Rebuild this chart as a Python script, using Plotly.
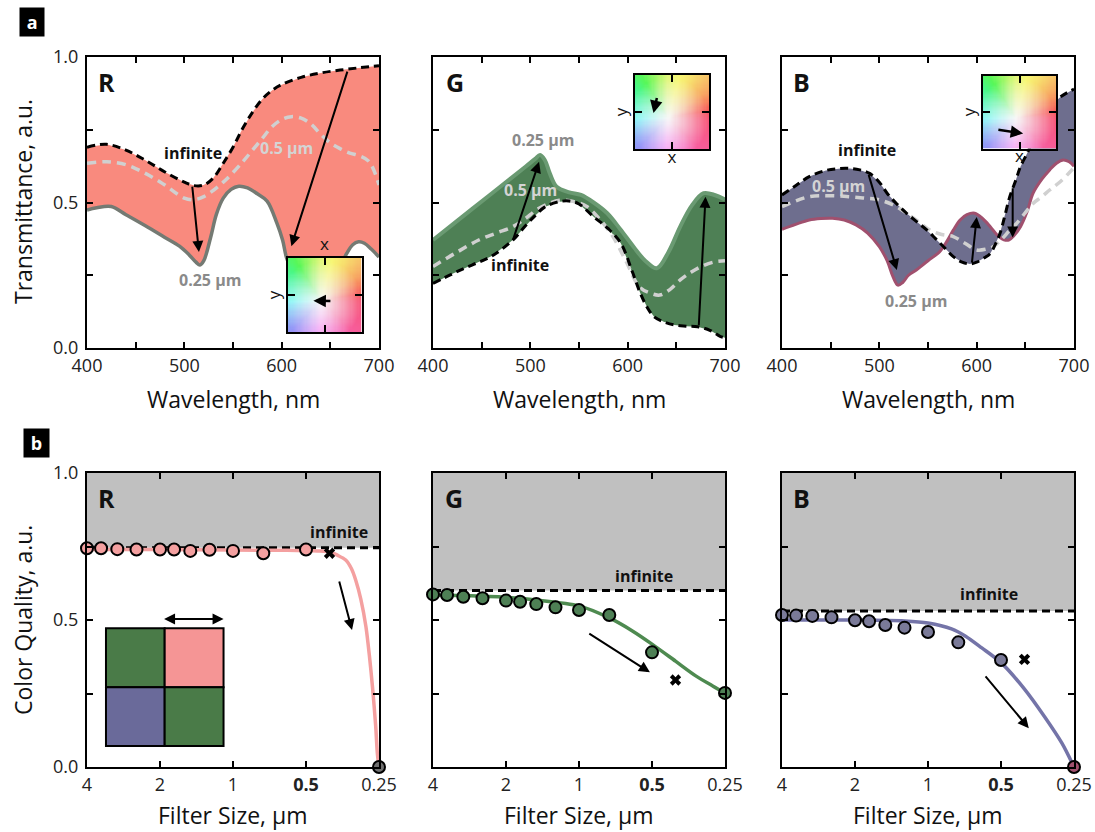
import numpy as np
import plotly.graph_objects as go

# ---------------- Panel a data (wavelength in nm, transmittance a.u.) ----------------
R_inf_wl = [400, 420, 440, 460, 480, 500, 510, 520, 530, 540, 550, 560, 570, 580, 590, 600, 620, 640, 660, 680, 700]
R_inf = [0.69, 0.70, 0.68, 0.645, 0.605, 0.57, 0.558, 0.56, 0.585, 0.635, 0.69, 0.755, 0.81, 0.855, 0.885, 0.905, 0.93, 0.945, 0.955, 0.963, 0.97]
R_05_wl = [400, 420, 440, 460, 480, 500, 510, 520, 540, 560, 570, 580, 590, 600, 610, 620, 630, 640, 650, 660, 670, 680, 690, 700]
R_05 = [0.635, 0.64, 0.63, 0.60, 0.56, 0.515, 0.51, 0.52, 0.57, 0.64, 0.68, 0.72, 0.76, 0.785, 0.795, 0.79, 0.77, 0.735, 0.705, 0.685, 0.67, 0.66, 0.64, 0.56]
R_025_wl = [400, 410, 425, 440, 460, 480, 495, 505, 512, 516, 520, 527, 533, 540, 548, 556, 565, 575, 585, 595, 601, 605, 610, 620, 630, 640, 650, 660, 667, 673, 679, 685, 692, 700]
R_025 = [0.474, 0.482, 0.486, 0.458, 0.42, 0.38, 0.35, 0.32, 0.295, 0.285, 0.30, 0.38, 0.46, 0.515, 0.545, 0.556, 0.55, 0.53, 0.505, 0.43, 0.37, 0.31, 0.27, 0.22, 0.20, 0.20, 0.22, 0.28, 0.326, 0.355, 0.365, 0.36, 0.34, 0.313]

G_inf_wl = [400, 420, 440, 460, 482, 495, 505, 515, 530, 540, 550, 565, 580, 593, 605, 613, 620, 627, 637, 648, 660, 672, 685, 695, 700]
G_inf = [0.222, 0.255, 0.285, 0.315, 0.371, 0.42, 0.455, 0.485, 0.503, 0.505, 0.495, 0.451, 0.41, 0.36, 0.26, 0.188, 0.14, 0.108, 0.09, 0.079, 0.075, 0.073, 0.06, 0.04, 0.035]
G_05_wl = [400, 425, 447, 465, 482, 495, 506, 518, 530, 545, 558, 572, 585, 598, 612, 622, 633, 643, 654, 665, 675, 688, 700]
G_05 = [0.28, 0.33, 0.371, 0.395, 0.417, 0.445, 0.474, 0.495, 0.508, 0.503, 0.486, 0.44, 0.382, 0.30, 0.21, 0.19, 0.182, 0.20, 0.234, 0.26, 0.279, 0.295, 0.30]
G_025_wl = [400, 420, 440, 460, 480, 495, 505, 510, 515, 520, 527, 540, 552, 565, 579, 592, 606, 618, 630, 642, 654, 666, 678, 690, 700]
G_025 = [0.371, 0.424, 0.477, 0.53, 0.583, 0.623, 0.65, 0.663, 0.645, 0.60, 0.554, 0.535, 0.526, 0.50, 0.463, 0.41, 0.348, 0.30, 0.274, 0.33, 0.417, 0.49, 0.532, 0.525, 0.51]

B_inf_wl = [400, 415, 428, 445, 460, 470, 480, 490, 500, 508, 518, 528, 538, 549, 558, 566, 576, 585, 593, 600, 608, 614, 619, 624, 629, 634, 640, 645, 652, 658, 667, 675, 687, 700]
B_inf = [0.526, 0.56, 0.589, 0.61, 0.617, 0.617, 0.612, 0.60, 0.57, 0.532, 0.495, 0.463, 0.435, 0.405, 0.375, 0.348, 0.314, 0.295, 0.289, 0.295, 0.31, 0.325, 0.355, 0.394, 0.455, 0.52, 0.575, 0.623, 0.67, 0.715, 0.775, 0.83, 0.865, 0.89]
B_05_wl = [400, 428, 450, 469, 485, 500, 515, 528, 540, 552, 564, 576, 588, 600, 610, 617, 626, 634, 641, 650, 658, 667, 675, 687, 700]
B_05 = [0.486, 0.52, 0.523, 0.52, 0.515, 0.509, 0.49, 0.463, 0.435, 0.405, 0.39, 0.383, 0.36, 0.337, 0.34, 0.348, 0.375, 0.405, 0.428, 0.465, 0.497, 0.52, 0.543, 0.575, 0.62]
B_025_wl = [400, 414, 428, 440, 452, 464, 476, 488, 500, 508, 514, 519, 524, 530, 538, 550, 562, 570, 576, 583, 590, 598, 606, 614, 622, 628, 633, 638, 645, 652, 658, 667, 675, 682, 689, 695, 700]
B_025 = [0.408, 0.425, 0.44, 0.445, 0.446, 0.44, 0.423, 0.395, 0.348, 0.30, 0.245, 0.216, 0.225, 0.25, 0.268, 0.30, 0.331, 0.37, 0.405, 0.44, 0.458, 0.463, 0.445, 0.417, 0.385, 0.372, 0.371, 0.385, 0.417, 0.47, 0.532, 0.58, 0.612, 0.635, 0.646, 0.64, 0.625]

# ---------------- Panel b data (filter size in um, colour quality a.u.) ----------------
sizes = [4, 3.5, 3, 2.5, 2, 1.75, 1.5, 1.25, 1, 0.75, 0.5, 0.25]
R_q = [0.744, 0.744, 0.741, 0.74, 0.74, 0.74, 0.735, 0.739, 0.735, 0.727, 0.74, 0.0]
G_q = [0.587, 0.585, 0.579, 0.574, 0.566, 0.562, 0.554, 0.543, 0.534, 0.517, 0.39, 0.252]
B_q = [0.517, 0.515, 0.514, 0.509, 0.499, 0.496, 0.483, 0.474, 0.459, 0.424, 0.364, 0.0]
inf_q = {"R": 0.746, "G": 0.60, "B": 0.531}
cross_size = 0.4
cross_q = {"R": 0.727, "G": 0.296, "B": 0.366}

R_fit_s = [4, 2, 1, 0.6, 0.45, 0.4, 0.37, 0.343, 0.325, 0.312, 0.297, 0.283, 0.274, 0.266, 0.258, 0.254, 0.25]
R_fit = [0.74, 0.74, 0.738, 0.737, 0.735, 0.732, 0.72, 0.704, 0.675, 0.636, 0.57, 0.477, 0.38, 0.273, 0.14, 0.047, 0.0]
G_fit_s = [4, 3, 2, 1.5, 1, 0.75, 0.6, 0.5, 0.4, 0.33, 0.28, 0.25]
G_fit = [0.585, 0.583, 0.577, 0.568, 0.548, 0.507, 0.462, 0.418, 0.36, 0.31, 0.275, 0.252]
B_fit_s = [4, 2, 1.25, 1, 0.8, 0.7, 0.6, 0.5, 0.4, 0.33, 0.28, 0.25]
B_fit = [0.5, 0.5, 0.497, 0.49, 0.47, 0.445, 0.405, 0.355, 0.265, 0.17, 0.08, 0.0]

a_xticks = [400, 450, 500, 550, 600, 650, 700]
a_xtext = ["400", "", "500", "", "600", "", "700"]
y_ticks = [0, 0.25, 0.5, 0.75, 1.0]
y_text = ["0.0", "", "0.5", "", "1.0"]
b_xticks = [4, 2, 1, 0.5, 0.25]
b_xtext = ["4", "2", "1", "<b>0.5</b>", "0.25"]

FONT = "Open Sans"
fig = go.Figure()


def ax_names(i):
    return ("x" if i == 1 else f"x{i}"), ("y" if i == 1 else f"y{i}")


def add_a_panel(i, inf_wl, inf, h_wl, h, q_wl, q, fillc, qcol, qw):
    xa, ya = ax_names(i)
    fig.add_trace(go.Scatter(x=inf_wl, y=inf, xaxis=xa, yaxis=ya, mode="lines",
                             line=dict(width=0, color=fillc), hoverinfo="skip", showlegend=False))
    fig.add_trace(go.Scatter(x=q_wl, y=q, xaxis=xa, yaxis=ya, mode="lines", fill="tonexty",
                             fillcolor=fillc, line=dict(width=0, color=fillc), hoverinfo="skip", showlegend=False))
    fig.add_trace(go.Scatter(x=q_wl, y=q, xaxis=xa, yaxis=ya, mode="lines", line_shape="spline",
                             line=dict(width=qw, color=qcol), showlegend=False))
    fig.add_trace(go.Scatter(x=h_wl, y=h, xaxis=xa, yaxis=ya, mode="lines", line_shape="spline",
                             line=dict(width=3.5, color="#D0D0D0", dash="9px,6px"), showlegend=False))
    fig.add_trace(go.Scatter(x=inf_wl, y=inf, xaxis=xa, yaxis=ya, mode="lines", line_shape="spline",
                             line=dict(width=3, color="black", dash="8px,5px"), showlegend=False))


add_a_panel(1, R_inf_wl, R_inf, R_05_wl, R_05, R_025_wl, R_025, "#F98A7E", "#747A73", 3.5)
add_a_panel(2, G_inf_wl, G_inf, G_05_wl, G_05, G_025_wl, G_025, "#4E8055", "#6A9A72", 4)
add_a_panel(3, B_inf_wl, B_inf, B_05_wl, B_05, B_025_wl, B_025, "#6E6E8E", "#A0506E", 3)


def add_b_panel(i, fit_s, fit, q, key, mcols, ccol):
    xa, ya = ax_names(i)
    fig.add_trace(go.Scatter(x=[sizes[0], sizes[-1]], y=[inf_q[key]] * 2, xaxis=xa, yaxis=ya, mode="lines",
                             line=dict(width=3, color="black", dash="8px,5px"), showlegend=False))
    fig.add_trace(go.Scatter(x=fit_s, y=fit, xaxis=xa, yaxis=ya, mode="lines", line_shape="spline",
                             line=dict(width=3.5, color=ccol, smoothing=0.8), showlegend=False))
    fig.add_trace(go.Scatter(x=sizes, y=q, xaxis=xa, yaxis=ya, mode="markers",
                             marker=dict(size=12, color=mcols, line=dict(color="black", width=2)),
                             cliponaxis=False, showlegend=False))
    fig.add_trace(go.Scatter(x=[cross_size], y=[cross_q[key]], xaxis=xa, yaxis=ya, mode="markers",
                             marker=dict(symbol="x", size=10, color="black", line=dict(width=0)),
                             showlegend=False))


add_b_panel(4, R_fit_s, R_fit, R_q, "R", ["#F4A0A0"] * 11 + ["#707070"], "#F4A0A0")
add_b_panel(5, G_fit_s, G_fit, G_q, "G", ["#4E8055"] * 12, "#4E8A50")
add_b_panel(6, B_fit_s, B_fit, B_q, "B", ["#7A7A98"] * 11 + ["#A0506E"], "#7474A8")

# ---------------- colour-space inset images ----------------
N = 64
jj, ii = np.meshgrid(np.arange(N), np.arange(N))
u = (jj + 0.5) / N
v = 1 - (ii + 0.5) / N
dx, dy = u - 0.45, v - 0.42
theta = np.degrees(np.arctan2(dy, dx)) % 360
hue = (np.interp(theta, [0, 35, 60, 90, 135, 180, 225, 270, 315, 360],
                 [-12, 28, 50, 70, 140, 178, 240, 305, 335, 348]) % 360) / 360.0
smax = np.interp(theta, [0, 45, 90, 135, 180, 225, 270, 315, 360],
                 [0.66, 0.58, 0.5, 0.7, 0.55, 0.40, 0.40, 0.62, 0.66])
sat = np.clip(np.hypot(dx, dy) / 0.55, 0, 1) ** 1.1 * smax
val = np.full_like(sat, 0.97)
k = np.floor(hue * 6).astype(int) % 6
f = hue * 6 - np.floor(hue * 6)
p = val * (1 - sat)
qq = val * (1 - f * sat)
t = val * (1 - (1 - f) * sat)
r = np.choose(k, [val, qq, p, p, t, val])
g = np.choose(k, [t, val, val, qq, p, p])
b = np.choose(k, [p, p, t, val, val, qq])
img = (np.stack([r, g, b], axis=-1) * 255).astype(np.uint8)

for i in (7, 8, 9):
    xa, ya = ax_names(i)
    fig.add_trace(go.Image(z=img, x0=0.5 / N, dx=1.0 / N, y0=0.5 / N, dy=1.0 / N,
                           xaxis=xa, yaxis=ya, hoverinfo="skip"))

# ---------------- layout ----------------
W, H = 1095, 832
a_dom_y = [1 - 348 / H, 1 - 57 / H]
b_dom_y = [1 - 767 / H, 1 - 473 / H]
dom_x = [[87 / W, 379 / W], [433 / W, 725 / W], [782 / W, 1074 / W]]

common = dict(showline=True, linecolor="black", linewidth=2, mirror="allticks", ticks="inside",
              ticklen=6, tickwidth=2, tickcolor="black", showgrid=False, zeroline=False, automargin=False,
              tickfont=dict(family=FONT, size=18, color="#222"), fixedrange=True)

layout = dict(width=W, height=H, margin=dict(l=0, r=0, t=0, b=0, autoexpand=False), paper_bgcolor="white",
              plot_bgcolor="white", showlegend=False, font=dict(family=FONT, color="#222"),
              template="none")

for n in range(3):
    i = n + 1
    xk = "xaxis" if i == 1 else f"xaxis{i}"
    yk = "yaxis" if i == 1 else f"yaxis{i}"
    layout[xk] = dict(common, domain=dom_x[n], range=[400, 700], tickvals=a_xticks, ticktext=a_xtext,
                      anchor=ax_names(i)[1])
    layout[yk] = dict(common, domain=a_dom_y, range=[0, 1], tickvals=y_ticks, ticklabelstandoff=3,
                      ticktext=y_text if n == 0 else [""] * 5, anchor=ax_names(i)[0])
    j = n + 4
    layout[f"xaxis{j}"] = dict(common, domain=dom_x[n], type="log", range=[np.log10(4), np.log10(0.25)],
                               tickvals=b_xticks, ticktext=b_xtext, anchor=f"y{j}")
    layout[f"yaxis{j}"] = dict(common, domain=b_dom_y, range=[0, 1], tickvals=y_ticks, ticklabelstandoff=3,
                               ticktext=y_text if n == 0 else [""] * 5, anchor=f"x{j}")

inset_dom = {
    7: ([287 / W, 362 / W], [1 - 332 / H, 1 - 258 / H], "top"),
    8: ([635 / W, 709 / W], [1 - 149 / H, 1 - 75 / H], "bottom"),
    9: ([983 / W, 1056 / W], [1 - 149 / H, 1 - 75 / H], "bottom"),
}
inset_ax = dict(showline=True, linecolor="black", linewidth=2, mirror="allticks", ticks="inside",
                tickvals=[0.5], ticklen=7, tickwidth=2, tickcolor="black", showticklabels=False,
                showgrid=False, zeroline=False, fixedrange=True, automargin=False)
for i, (dxr, dyr, side) in inset_dom.items():
    layout[f"xaxis{i}"] = dict(inset_ax, domain=dxr, range=[0, 1], anchor=f"y{i}", side=side,
                               title=dict(text="x", font=dict(family=FONT, size=17, color="#111"), standoff=1))
    layout[f"yaxis{i}"] = dict(inset_ax, domain=dyr, range=[1, 0], autorange=False, anchor=f"x{i}",
                               title=dict(text="y", font=dict(family=FONT, size=17, color="#111"), standoff=1))

fig.update_layout(**layout)

# ---------------- annotations ----------------
ann = []


def txt(x, y, s, xref, yref, size=16, color="#111", bold=True, **kw):
    ann.append(dict(x=x, y=y, xref=xref, yref=yref, text=(f"<b>{s}</b>" if bold else s), showarrow=False,
                    xanchor="center", yanchor="middle",
                    font=dict(family=FONT, size=size, color=color), **kw))


def arrow(x0, y0, x1, y1, xr, yr, width=2, size=1.1):
    ann.append(dict(x=x1, y=y1, ax=x0, ay=y0, xref=xr, yref=yr, axref=xr, ayref=yr, text="",
                    showarrow=True, arrowhead=2, arrowsize=size, arrowwidth=width, arrowcolor="black",
                    standoff=0, startstandoff=0))


# panel letters
for s, x, y in [("a", 32, 22), ("b", 36, 443)]:
    ann.append(dict(x=x / W, y=1 - y / H, xref="paper", yref="paper", text=f"<b>&nbsp;{s}&nbsp;</b>",
                    showarrow=False, bgcolor="black", borderpad=2, xanchor="center", yanchor="middle",
                    font=dict(family=FONT, size=18, color="white")))

# axis titles
txt(23 / W, 1 - 202 / H, "Transmittance, a.u.", "paper", "paper", size=23, bold=False, textangle=-90)
txt(23 / W, 1 - 620 / H, "Color Quality, a.u.", "paper", "paper", size=23, bold=False, textangle=-90)
for n in range(3):
    cx = (dom_x[n][0] + dom_x[n][1]) / 2
    txt(cx, 1 - 399 / H, "Wavelength, nm", "paper", "paper", size=23, bold=False)
    txt(cx, 1 - 815 / H, "Filter Size, μm", "paper", "paper", size=23, bold=False)

# big letters
for i, s, fx in [(1, "R", 0.068), (2, "G", 0.075), (3, "B", 0.067), (4, "R", 0.067), (5, "G", 0.073), (6, "B", 0.067)]:
    xa, ya = ax_names(i)
    txt(fx, 0.914, s, f"{xa} domain", f"{ya} domain", size=25, color="#111")

# panel a labels
GRAY, LGRAY = "#8A8A8A", "#D4D4D4"
txt(509, 0.67, "infinite", "x", "y")
txt(605, 0.687, "0.5 μm", "x", "y", color=LGRAY)
txt(526, 0.235, "0.25 μm", "x", "y", color=GRAY)
txt(513, 0.715, "0.25 μm", "x2", "y2", color=GRAY)
txt(500, 0.543, "0.5 μm", "x2", "y2", color=LGRAY)
txt(489, 0.285, "infinite", "x2", "y2")
txt(487, 0.68, "infinite", "x3", "y3")
txt(458, 0.555, "0.5 μm", "x3", "y3", color=LGRAY)
txt(538, 0.16, "0.25 μm", "x3", "y3", color=GRAY)

arrow(508, 0.56, 515, 0.33, "x", "y")
arrow(668, 0.955, 610, 0.35, "x", "y")
arrow(482, 0.37, 509, 0.64, "x2", "y2")
arrow(673, 0.073, 680, 0.52, "x2", "y2")
arrow(488.6, 0.60, 518, 0.268, "x3", "y3")
arrow(595, 0.289, 600, 0.45, "x3", "y3")
arrow(637, 0.554, 637, 0.38, "x3", "y3")

# inset arrows (fractions of inset square, y from top)
arrow(0.60, 0.583, 0.35, 0.578, "x7", "y7", width=2.5, size=1.0)
arrow(0.30, 0.29, 0.25, 0.515, "x8", "y8", width=2.5, size=1.0)
arrow(0.19, 0.74, 0.55, 0.795, "x9", "y9", width=2.5, size=1.0)

# panel b labels and arrows (log axes -> log10 positions)
L = np.log10
txt(L(0.366), 0.80, "infinite", "x4", "y4")
txt(L(0.54), 0.65, "infinite", "x5", "y5")
txt(L(0.56), 0.587, "infinite", "x6", "y6")
arrow(L(0.366), 0.636, L(0.323), 0.466, "x4", "y4")
arrow(L(0.92), 0.457, L(0.51), 0.322, "x5", "y5")
arrow(L(0.586), 0.313, L(0.384), 0.132, "x6", "y6")

# double arrow above the 2x2 filter grid
ann.append(dict(x=0.4676, y=0.503, xref="x4 domain", yref="y4 domain", ax=-61, ay=0, axref="pixel",
                ayref="pixel", text="", showarrow=True, arrowhead=2, arrowside="end+start",
                arrowsize=1.1, arrowwidth=2, arrowcolor="black", standoff=0, startstandoff=0))

fig.update_layout(annotations=ann)

# ---------------- shapes ----------------
shapes = []
for i, key in [(4, "R"), (5, "G"), (6, "B")]:
    shapes.append(dict(type="rect", xref=f"x{i} domain", yref=f"y{i}", x0=0, x1=1, y0=inf_q[key], y1=1,
                       fillcolor="#C0C0C0", line=dict(width=0), layer="below"))
grid = [(0.065, 0.266, 0.2716, 0.4718, "#4A7B48"), (0.266, 0.4676, 0.2716, 0.4718, "#F59595"),
        (0.065, 0.266, 0.0714, 0.2716, "#6A6A9A"), (0.266, 0.4676, 0.0714, 0.2716, "#4A7B48")]
for x0, x1, y0, y1, c in grid:
    shapes.append(dict(type="rect", xref="x4 domain", yref="y4 domain", x0=x0, x1=x1, y0=y0, y1=y1,
                       fillcolor=c, line=dict(color="black", width=2)))
fig.update_layout(shapes=shapes)

fig.write_html("out.html")
